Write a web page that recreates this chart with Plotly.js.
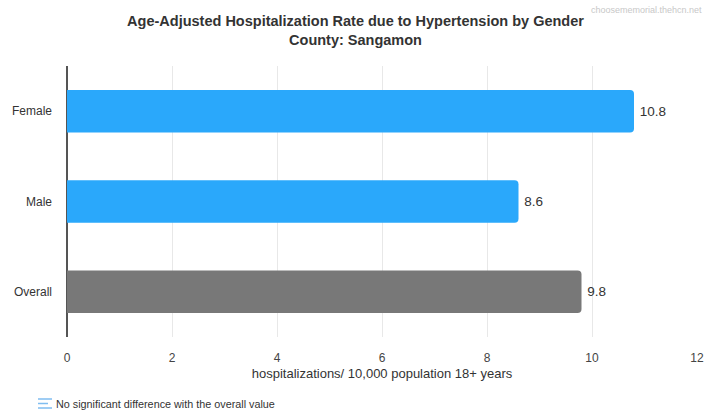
<!DOCTYPE html>
<html>
<head>
<meta charset="utf-8">
<script src="https://cdn.plot.ly/plotly-3.0.1.min.js"></script>
<style>
  body { margin: 0; background: #fff; }
  #graph { width: 704px; height: 410px; }
</style>
</head>
<body>
<div id="graph"></div>
<script>
const categories = ['Female', 'Male', 'Overall'];
const rates = [10.8, 8.6, 9.8];
const barColors = ['#2aa8fb', '#2aa8fb', '#787878'];
const xTicks = [0, 2, 4, 6, 8, 10, 12];

// plot area in pixels, used to place the footnote
const L = 67, R = 7, T = 66, B = 73;
const W = 704 - L - R, H = 410 - T - B;
const px = x => (x - L) / W;
const py = y => (410 - B - y) / H;

const trace = {
    type: 'bar',
    orientation: 'h',
    y: categories,
    x: rates,
    width: 0.47,
    marker: { color: barColors, cornerradius: 4 },
    text: rates.map(v => '\u2009' + v.toFixed(1)),
    textposition: 'outside',
    textfont: { family: 'Liberation Sans, Arial, sans-serif', size: 13.5, color: '#333' },
    cliponaxis: false,
    hoverinfo: 'none'
};

const footY = 404;
const iconShapes = [0, 1, 2].map(i => ({
    type: 'line', xref: 'paper', yref: 'paper',
    x0: px(38), x1: px(i === 1 ? 48 : 52),
    y0: py(footY - 5 + i * 4.5), y1: py(footY - 5 + i * 4.5),
    line: { color: '#7fbdf0', width: 1.5 }
}));

const layout = {
    width: 704,
    height: 410,
    margin: { l: L, r: R, t: T, b: B },
    paper_bgcolor: '#fff',
    plot_bgcolor: '#fff',
    font: { family: 'Liberation Sans, Arial, sans-serif', color: '#333' },
    title: {
        text: '<b>Age-Adjusted Hospitalization Rate due to Hypertension by Gender</b><br><b>County: Sangamon</b>',
        font: { size: 14.5, color: '#333' },
        x: 0.505, xref: 'container', xanchor: 'center',
        y: 1 - 26 / 410, yref: 'container', yanchor: 'middle'
    },
    showlegend: false,
    xaxis: {
        range: [0, 12],
        tickvals: xTicks,
        ticktext: xTicks.map(String),
        showgrid: true,
        gridcolor: '#e8e8e8',
        zeroline: true,
        zerolinecolor: '#555',
        zerolinewidth: 1.5,
        tickfont: { size: 12, color: '#444' },
        ticklen: 0,
        ticklabelstandoff: 12,
        ticklabeloverflow: 'allow',
        title: { text: 'hospitalizations/ 10,000 population 18+ years', font: { size: 13, color: '#333' }, standoff: 4 },
        fixedrange: true
    },
    yaxis: {
        autorange: 'reversed',
        showgrid: false,
        zeroline: false,
        ticks: '',
        ticklabelstandoff: 14,
        tickfont: { size: 12, color: '#333' },
        fixedrange: true
    },
    shapes: iconShapes,
    annotations: [
        {
            text: 'No significant difference with the overall value',
            xref: 'paper', yref: 'paper',
            x: px(54), y: py(footY),
            xanchor: 'left', yanchor: 'middle',
            showarrow: false,
            font: { size: 10.8, color: '#333' }
        },
        {
            text: 'choosememorial.thehcn.net',
            xref: 'paper', yref: 'paper',
            x: px(704), y: py(10),
            xanchor: 'right', yanchor: 'middle',
            showarrow: false,
            font: { size: 9, color: '#c8c8c8' }
        }
    ]
};

Plotly.newPlot('graph', [trace], layout, { displayModeBar: false, staticPlot: true });
</script>
</body>
</html>
